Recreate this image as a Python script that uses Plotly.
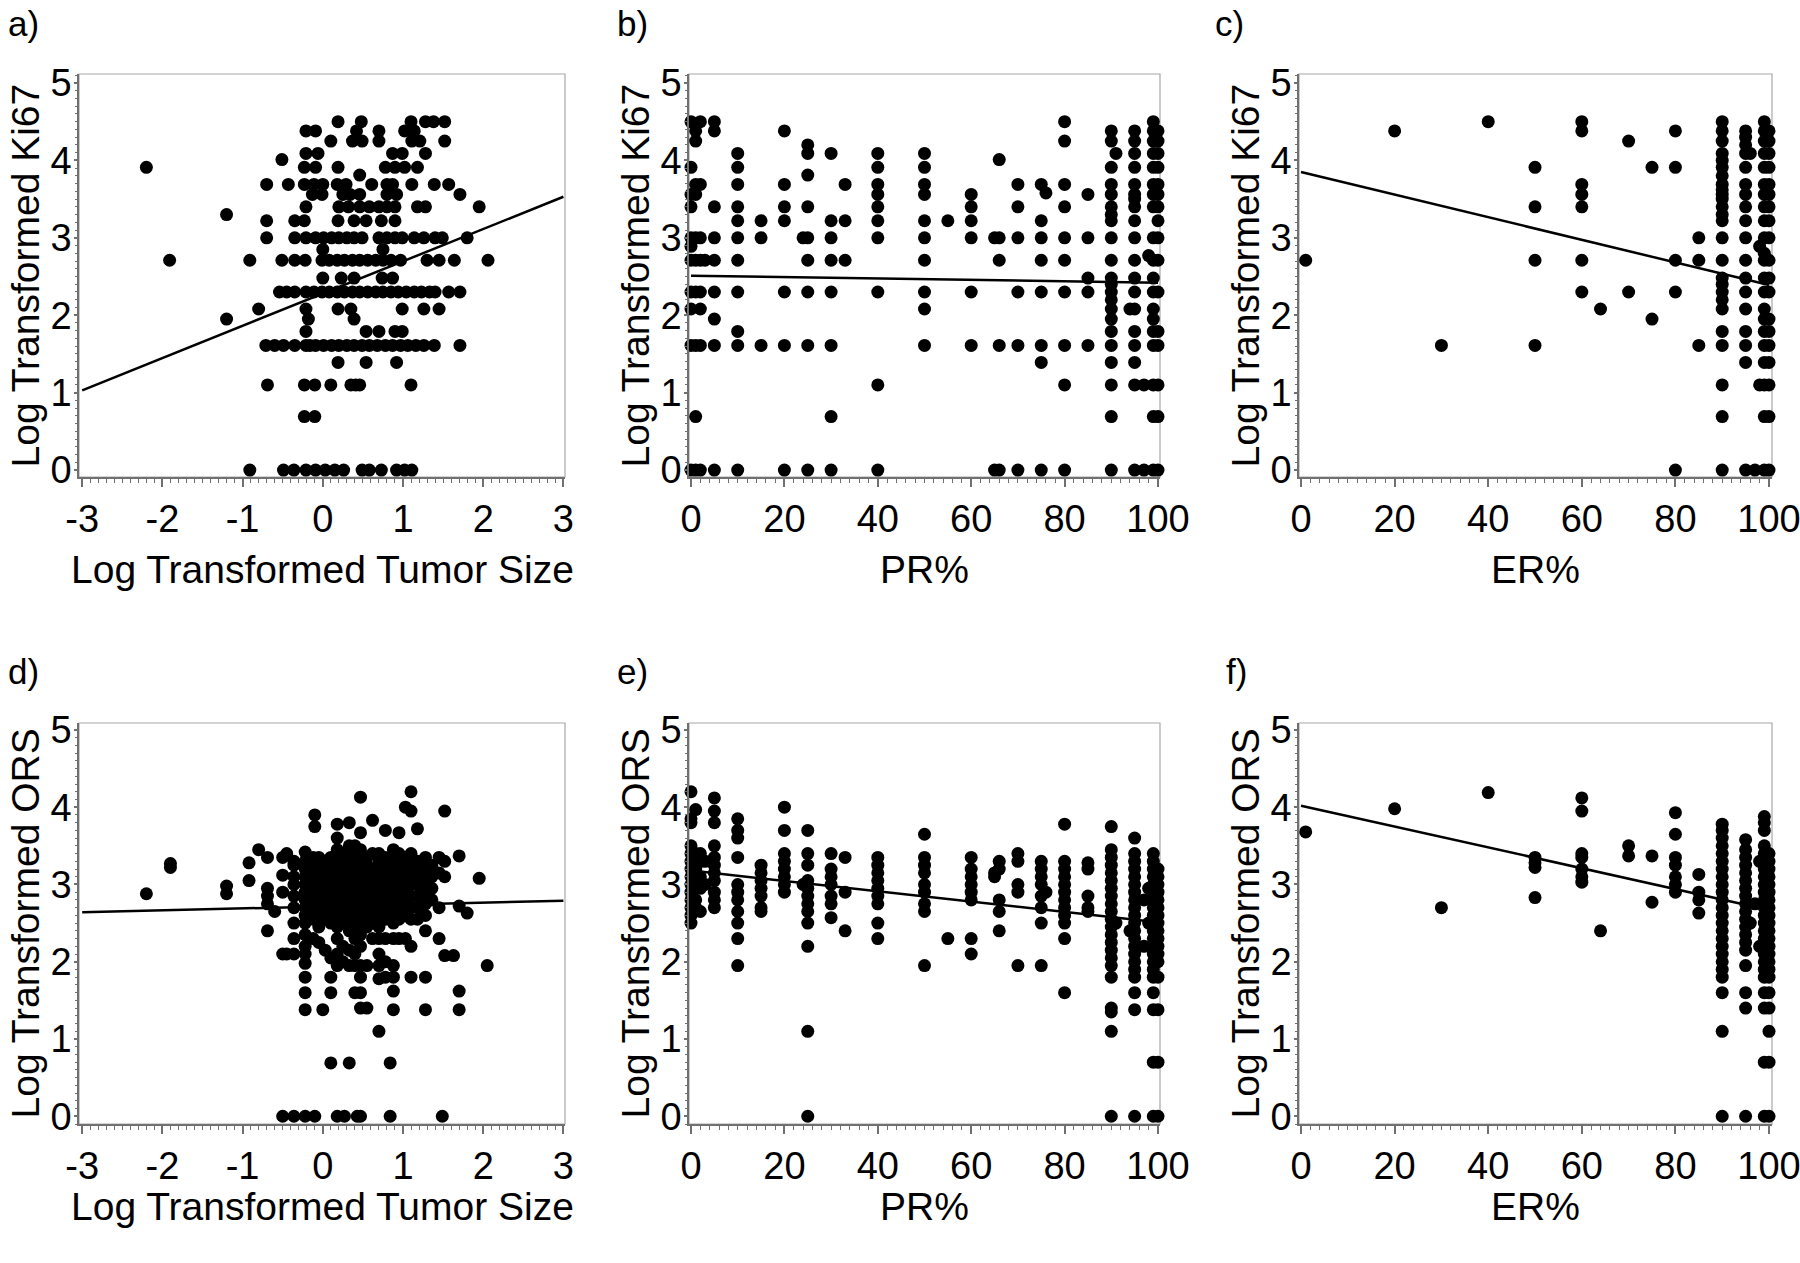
"""
Ki67 / ORS と腫瘍径・PR%・ER% の散布図 (6 パネル)
"""
import plotly.graph_objects as go

W, H = 1800, 1263
FONT = "Liberation Sans, Arial, sans-serif"

# ---- データ ----
# a) Ki67 (log) の値 -> 腫瘍径 (log) の値
size_ki67 = {
    0.0: [-0.91, -0.49, -0.36, -0.21, -0.09, 0.03, 0.15, 0.26, 0.49, 0.58, 0.73, 0.92, 1.02, 1.11],
    0.69: [-0.23, -0.1],
    1.1: [-0.69, -0.23, -0.1, 0.1, 0.35, 0.41, 0.46, 1.1],
    1.39: [0.19, 0.54, 0.92],
    1.61: [-0.71, -0.6, -0.49, -0.35, -0.21, -0.16, -0.09, 0.01, 0.11, 0.2, 0.3, 0.39, 0.49,
           0.58, 0.68, 0.78, 0.87, 0.97, 1.06, 1.16, 1.26, 1.39, 1.71],
    1.79: [-0.21, 0.54, 0.7, 0.9, 0.99],
    1.95: [-1.2, -0.18, 0.39],
    2.08: [-0.8, -0.21, 0.19, 0.35, 0.99, 1.26, 1.45],
    2.3: [-0.54, -0.45, -0.35, -0.21, -0.11, -0.01, 0.08, 0.18, 0.27, 0.37, 0.46, 0.56, 0.66,
          0.75, 0.85, 0.94, 1.04, 1.14, 1.23, 1.33, 1.4, 1.57, 1.71],
    2.48: [0.0, 0.23, 0.39, 0.74, 0.87],
    2.71: [-1.91, -0.91, -0.51, -0.35, -0.22, -0.01, 0.08, 0.18, 0.27, 0.37, 0.46, 0.56, 0.66,
           0.75, 0.85, 0.97, 1.3, 1.45, 1.64, 2.06],
    2.85: [0.0, 0.75],
    3.0: [-0.7, -0.35, -0.21, -0.09, 0.01, 0.11, 0.2, 0.3, 0.39, 0.49, 0.7, 0.8, 0.9, 0.99,
          1.14, 1.26, 1.4, 1.49, 1.8],
    3.22: [-0.7, -0.35, -0.23, 0.19, 0.39, 0.54, 0.73, 0.9],
    3.3: [-1.2],
    3.4: [-0.21, 0.2, 0.32, 0.46, 0.58, 0.7, 0.8, 0.9, 1.18, 1.28, 1.95],
    3.56: [-0.13, -0.01, 0.25, 0.34, 0.46, 0.8, 0.92, 1.71],
    3.69: [-0.7, -0.43, -0.23, -0.11, 0.0, 0.18, 0.29, 0.61, 0.8, 0.87, 1.11, 1.39, 1.57],
    3.81: [0.46],
    3.91: [-2.2, -0.23, -0.09, 0.19, 0.78, 0.9, 1.02, 1.18],
    4.01: [-0.51],
    4.09: [-0.21, -0.06, 0.87, 0.99, 1.28],
    4.25: [0.1, 0.37, 0.49, 0.7, 1.11, 1.21, 1.52],
    4.38: [-0.21, -0.09, 0.42, 0.7, 1.02, 1.14],
    4.5: [0.19, 0.48, 1.1, 1.28, 1.38, 1.52],
}

# b) PR% -> Ki67 (log)
pr_ki67 = {
    0: [0, 1.61, 2.08, 2.3, 2.71, 2.89, 3.0, 3.4, 3.56, 3.91, 4.5],
    1: [0, 0.69, 1.61, 2.3, 2.71, 3.0, 3.56, 3.69, 4.25, 4.38],
    2: [0, 1.61, 2.08, 2.3, 2.71, 3.0, 3.69, 4.5],
    3: [2.71],
    5: [0, 1.61, 1.95, 2.3, 2.71, 3.0, 3.4, 4.38, 4.5],
    10: [0, 1.61, 1.79, 2.3, 2.71, 3.0, 3.22, 3.4, 3.69, 3.91, 4.09],
    15: [1.61, 3.0, 3.22],
    20: [0, 1.61, 2.3, 3.22, 3.4, 3.69, 4.38],
    24: [3.0],
    25: [0, 1.61, 2.3, 2.71, 3.0, 3.4, 3.81, 4.09, 4.2],
    30: [0, 0.69, 1.61, 2.3, 2.71, 3.0, 3.22, 4.09],
    33: [2.71, 3.22, 3.69],
    40: [0, 1.1, 2.3, 3.0, 3.22, 3.4, 3.56, 3.69, 3.91, 4.09],
    50: [1.61, 2.08, 2.3, 2.71, 3.0, 3.22, 3.56, 3.69, 3.91, 4.09],
    55: [3.22],
    60: [1.61, 2.3, 3.0, 3.22, 3.4, 3.56],
    65: [0, 3.0],
    66: [0, 1.61, 2.71, 3.0, 4.01],
    70: [0, 1.61, 2.3, 3.0, 3.4, 3.69],
    75: [0, 1.39, 1.61, 2.3, 2.71, 3.0, 3.22, 3.69],
    76: [3.58],
    80: [0, 1.1, 1.61, 2.3, 2.71, 3.0, 3.4, 3.69, 4.25, 4.5],
    85: [1.61, 2.3, 2.48, 3.0, 3.56],
    90: [0, 0.69, 1.1, 1.39, 1.61, 1.79, 1.95, 2.08, 2.2, 2.3, 2.4, 2.48, 2.71, 3.0, 3.22,
         3.3, 3.4, 3.56, 3.69, 3.91, 4.25, 4.38],
    91: [4.09],
    94: [2.08],
    95: [0, 1.1, 1.39, 1.61, 1.79, 2.08, 2.3, 2.48, 2.71, 3.0, 3.22, 3.4, 3.5, 3.56, 3.69,
         3.91, 4.09, 4.25, 4.38],
    97: [0, 1.1],
    98: [2.77],
    99: [0, 0.69, 1.1, 1.61, 1.79, 1.95, 2.08, 2.3, 2.48, 2.71, 3.0, 3.4, 3.56, 3.69, 3.91,
         4.09, 4.25, 4.38, 4.5],
    100: [0, 0.69, 1.1, 1.61, 1.79, 2.3, 2.71, 3.0, 3.22, 3.4, 3.56, 3.69, 3.91, 4.09, 4.25, 4.38],
}

# c) ER% -> Ki67 (log)
er_ki67 = {
    1: [2.71],
    20: [4.38],
    30: [1.61],
    40: [4.5],
    50: [1.61, 2.71, 3.4, 3.91],
    60: [2.3, 2.71, 3.4, 3.56, 3.69, 4.38, 4.5],
    64: [2.08],
    70: [2.3, 4.25],
    75: [1.95, 3.91],
    80: [0, 2.3, 2.71, 3.91, 4.38],
    85: [1.61, 2.71, 3.0],
    90: [0, 0.69, 1.1, 1.61, 1.79, 2.08, 2.2, 2.3, 2.4, 2.48, 2.71, 3.0, 3.22, 3.3, 3.4, 3.5,
         3.56, 3.62, 3.69, 3.8, 3.91, 4.0, 4.09, 4.25, 4.38, 4.5],
    95: [0, 1.39, 1.61, 1.79, 2.08, 2.3, 2.48, 2.71, 3.0, 3.22, 3.4, 3.56, 3.69, 3.91, 4.09,
         4.2, 4.3, 4.38],
    96: [4.09],
    97: [0],
    98: [1.1, 2.89],
    99: [0, 0.69, 1.1, 1.39, 1.61, 1.79, 1.95, 2.08, 2.3, 2.48, 2.71, 2.8, 3.0, 3.22, 3.4,
         3.56, 3.69, 3.91, 4.09, 4.25, 4.38, 4.5],
    100: [0, 0.69, 1.1, 1.39, 1.61, 1.79, 1.95, 2.3, 2.48, 2.71, 3.0, 3.22, 3.4, 3.56, 3.69,
          3.91, 4.09, 4.25, 4.38],
}

# d) 腫瘍径 (log) -> ORS (log)
size_ors = {
    -2.2: [2.88],
    -1.9: [3.22, 3.27],
    -1.2: [2.88, 2.98],
    -0.92: [3.05, 3.28],
    -0.8: [3.45],
    -0.69: [2.4, 2.75, 2.85, 2.95, 3.35],
    -0.6: [2.65],
    -0.5: [0, 2.1, 2.9, 3.12, 3.35],
    -0.45: [2.1, 3.4],
    -0.36: [0, 2.1, 2.3, 2.5, 2.7, 2.85, 3.0, 3.1, 3.25, 3.3],
    -0.22: [0, 1.38, 1.6, 1.8, 1.98, 2.1, 2.2, 2.35, 2.5, 2.6, 2.7, 2.8, 2.9, 3.0, 3.1, 3.2,
            3.3, 3.42],
    -0.12: [2.3, 2.55, 2.7, 2.85, 2.95, 3.05, 3.2, 3.35],
    -0.1: [0, 3.75, 3.9],
    -0.05: [2.25, 2.45, 2.6, 2.75, 2.9, 3.0, 3.1, 3.25, 3.35],
    0.0: [1.38],
    0.03: [2.15, 2.55, 2.7, 2.8, 2.95, 3.05, 3.15, 3.3],
    0.1: [0.69, 1.6, 1.8, 2.05, 2.5, 2.65, 2.8, 2.9, 3.0, 3.1, 3.2, 3.35],
    0.18: [0, 1.95, 2.1, 2.3, 2.45, 2.6, 2.7, 2.85, 2.95, 3.05, 3.2, 3.3, 3.45, 3.6, 3.78],
    0.25: [2.0, 2.2, 2.5, 2.65, 2.8, 2.9, 3.0, 3.15, 3.25, 3.4],
    0.27: [0],
    0.33: [0.69, 1.95, 2.15, 2.4, 2.55, 2.7, 2.85, 2.95, 3.05, 3.2, 3.35, 3.5, 3.8],
    0.4: [1.6, 1.95, 2.1, 2.3, 2.45, 2.6, 2.75, 2.9, 3.0, 3.1, 3.25, 3.4, 3.5],
    0.43: [0],
    0.47: [0, 1.4, 1.6, 1.8, 1.95, 2.2, 2.35, 2.5, 2.7, 2.8, 2.95, 3.05, 3.2, 3.3, 3.45, 3.67, 4.13],
    0.55: [1.4, 1.95, 2.45, 2.6, 2.75, 2.9, 3.0, 3.15, 3.25, 3.35],
    0.62: [2.3, 2.5, 2.65, 2.8, 2.95, 3.1, 3.2, 3.4, 3.83],
    0.7: [1.1, 1.78, 1.95, 2.1, 2.3, 2.45, 2.6, 2.75, 2.9, 3.0, 3.15, 3.3, 3.4],
    0.78: [1.8, 2.0, 2.3, 2.55, 2.7, 2.85, 3.0, 3.1, 3.25, 3.35, 3.7],
    0.84: [0, 0.69],
    0.88: [1.38, 1.62, 1.8, 1.95, 2.3, 2.5, 2.65, 2.8, 2.95, 3.05, 3.2, 3.3, 3.45],
    0.95: [2.3, 2.55, 2.7, 2.85, 3.0, 3.15, 3.25, 3.4, 3.67],
    1.03: [2.3, 2.6, 2.75, 2.9, 3.05, 3.2, 3.35, 4.0],
    1.1: [1.8, 2.2, 2.55, 2.7, 2.85, 3.0, 3.1, 3.25, 3.4, 3.95, 4.2],
    1.18: [2.55, 2.7, 2.85, 3.0, 3.15, 3.3, 3.72],
    1.28: [1.38, 1.8, 2.4, 2.6, 2.75, 2.9, 3.05, 3.2, 3.35],
    1.36: [2.8, 2.95, 3.1, 3.25],
    1.45: [2.3, 2.7, 3.15, 3.35],
    1.49: [0],
    1.52: [2.08, 3.1, 3.3, 3.95],
    1.63: [2.08],
    1.7: [1.38, 1.62, 2.72, 3.37],
    1.8: [2.63],
    1.95: [3.08],
    2.05: [1.95],
}

# e) PR% -> ORS (log)
pr_ors = {
    0: [2.5, 2.6, 2.7, 2.8, 2.9, 3.0, 3.1, 3.2, 3.3, 3.4, 3.5, 3.8, 3.85, 4.2],
    1: [2.7, 2.8, 3.0, 3.2, 3.4, 3.97],
    2: [2.65, 2.95, 3.1, 3.3, 3.4],
    3: [3.0, 3.3],
    5: [2.7, 2.8, 2.9, 3.05, 3.15, 3.25, 3.35, 3.5, 3.8, 3.95, 4.12],
    10: [1.95, 2.3, 2.5, 2.65, 2.8, 2.9, 3.0, 3.35, 3.6, 3.7, 3.85],
    15: [2.65, 2.7, 2.85, 2.95, 3.05, 3.15, 3.25],
    20: [2.9, 3.0, 3.1, 3.2, 3.3, 3.4, 3.7, 4.0],
    24: [3.0],
    25: [0, 1.1, 2.2, 2.5, 2.65, 2.75, 2.85, 2.95, 3.05, 3.25, 3.4, 3.7],
    30: [2.57, 2.75, 2.85, 3.0, 3.1, 3.2, 3.4],
    33: [2.4, 2.9, 3.35],
    40: [2.3, 2.5, 2.75, 2.85, 2.95, 3.05, 3.15, 3.25, 3.35],
    50: [1.95, 2.65, 2.75, 2.9, 3.0, 3.15, 3.25, 3.35, 3.65],
    55: [2.3],
    60: [2.1, 2.3, 2.8, 2.9, 3.0, 3.1, 3.2, 3.35],
    65: [3.1, 3.15],
    66: [2.4, 2.65, 2.8, 3.2, 3.3],
    70: [1.95, 2.9, 3.0, 3.3, 3.4],
    75: [1.95, 2.5, 2.7, 2.85, 3.0, 3.1, 3.2, 3.3],
    76: [2.9],
    80: [1.6, 2.3, 2.5, 2.6, 2.7, 2.8, 2.9, 3.0, 3.1, 3.2, 3.3, 3.78],
    85: [2.65, 2.7, 2.85, 3.2, 3.28],
    90: [0, 1.1, 1.35, 1.4, 1.8, 1.95, 2.05, 2.15, 2.25, 2.35, 2.45, 2.55, 2.65, 2.75, 2.85,
         2.95, 3.05, 3.15, 3.25, 3.35, 3.45, 3.75],
    91: [2.5],
    94: [2.4],
    95: [0, 1.38, 1.6, 1.8, 1.9, 2.0, 2.1, 2.2, 2.3, 2.4, 2.5, 2.6, 2.7, 2.8, 2.9, 3.0, 3.1,
         3.2, 3.3, 3.4, 3.6],
    97: [2.2, 2.8],
    98: [2.5, 2.95],
    99: [0, 0.7, 1.38, 1.6, 1.8, 1.9, 2.0, 2.1, 2.2, 2.3, 2.4, 2.5, 2.6, 2.7, 2.8, 2.9, 3.0,
         3.1, 3.2, 3.3, 3.4],
    100: [0, 0.7, 1.38, 1.8, 2.0, 2.1, 2.2, 2.3, 2.4, 2.5, 2.6, 2.7, 2.8, 2.9, 3.0, 3.1, 3.2],
}

# f) ER% -> ORS (log)
er_ors = {
    1: [3.68],
    20: [3.98],
    30: [2.7],
    40: [4.19],
    50: [2.83, 3.22, 3.28, 3.35],
    60: [3.03, 3.1, 3.2, 3.35, 3.4, 3.95, 4.12],
    64: [2.4],
    70: [3.37, 3.5],
    75: [2.77, 3.37],
    80: [2.9, 3.0, 3.1, 3.25, 3.35, 3.65, 3.93],
    85: [2.63, 2.8, 2.9, 3.13],
    90: [0, 1.1, 1.6, 1.8, 1.9, 2.0, 2.1, 2.2, 2.3, 2.4, 2.5, 2.6, 2.7, 2.8, 2.9, 3.0, 3.1,
         3.2, 3.3, 3.4, 3.5, 3.6, 3.7, 3.78],
    95: [0, 1.4, 1.6, 1.95, 2.15, 2.25, 2.35, 2.45, 2.55, 2.65, 2.75, 2.85, 2.95, 3.05, 3.15,
         3.25, 3.35, 3.45, 3.58],
    96: [2.5],
    97: [2.75],
    98: [2.2, 3.3],
    99: [0, 0.7, 1.4, 1.6, 1.8, 1.9, 2.0, 2.1, 2.2, 2.3, 2.4, 2.5, 2.6, 2.7, 2.8, 2.9, 3.0,
         3.1, 3.2, 3.3, 3.4, 3.5, 3.7, 3.8, 3.88],
    100: [0, 0.7, 1.1, 1.4, 1.6, 1.8, 1.9, 2.0, 2.1, 2.2, 2.3, 2.4, 2.5, 2.6, 2.7, 2.8, 2.9,
          3.0, 3.1, 3.2, 3.3, 3.4],
}

# 回帰直線の両端 (x, y)
fit_a = ([-3, 3], [1.03, 3.53])
fit_b = ([0, 100], [2.51, 2.42])
fit_c = ([0, 100], [3.85, 2.39])
fit_d = ([-3, 3], [2.64, 2.79])
fit_e = ([0, 100], [3.18, 2.51])
fit_f = ([0, 100], [4.02, 2.67])

size_ticks = [-3, -2, -1, 0, 1, 2, 3]
pct_ticks = [0, 20, 40, 60, 80, 100]
y_ticks = [0, 1, 2, 3, 4, 5]


def by_x(d):
    xs, ys = [], []
    for k, vals in d.items():
        for v in vals:
            xs.append(k)
            ys.append(v)
    return xs, ys


def by_y(d):
    ys, xs = by_x(d)
    return xs, ys


# ---- レイアウト（ピクセル位置） ----
col_px = [(79, 565), (689, 1160), (1299, 1772)]
row_px = [(74, 477), (723, 1124)]
xtitle_gap = [92, 82]
letter_px = [(6, 23), (615, 23), (1213, 23), (6, 671), (615, 671), (1224, 671)]

panels = [
    ("a)", by_y(size_ki67), fit_a, "size", "Log Transformed Tumor Size", "Log Transformed Ki67"),
    ("b)", by_x(pr_ki67), fit_b, "pr", "PR%", "Log Transformed Ki67"),
    ("c)", by_x(er_ki67), fit_c, "er", "ER%", "Log Transformed Ki67"),
    ("d)", by_x(size_ors), fit_d, "size", "Log Transformed Tumor Size", "Log Transformed ORS"),
    ("e)", by_x(pr_ors), fit_e, "pr", "PR%", "Log Transformed ORS"),
    ("f)", by_x(er_ors), fit_f, "er", "ER%", "Log Transformed ORS"),
]

x_ranges = {"size": [-3.04, 3.02], "pr": [-0.43, 100.43], "er": [-0.43, 100.64]}
y_ranges = [[-0.09, 5.116], [-0.1, 5.09]]

AXIS_COL = "#707070"
BOX_COL = "#a8a8a8"

fig = go.Figure()
annotations = []
shapes = []

for i, (letter, (xs, ys), (fx, fy), kind, xtitle, ytitle) in enumerate(panels):
    r, c = divmod(i, 3)
    n = i + 1
    xa = "x" if n == 1 else f"x{n}"
    ya = "y" if n == 1 else f"y{n}"
    x0, x1 = col_px[c]
    y0, y1 = row_px[r]

    fig.add_trace(go.Scatter(
        x=xs, y=ys, mode="markers", xaxis=xa, yaxis=ya,
        marker=dict(color="black", size=13, line=dict(width=0)),
        cliponaxis=False, showlegend=False,
    ))
    fig.add_trace(go.Scatter(
        x=fx, y=fy, mode="lines", xaxis=xa, yaxis=ya,
        line=dict(color="black", width=2.5), showlegend=False,
    ))

    if kind == "size":
        tv, tt, minor_dt = size_ticks, [str(t) for t in size_ticks], 0.1
    else:
        tv, tt, minor_dt = pct_ticks, [str(t) for t in pct_ticks], 2

    xkey = "xaxis" if n == 1 else f"xaxis{n}"
    ykey = "yaxis" if n == 1 else f"yaxis{n}"
    fig.layout[xkey] = dict(
        domain=[x0 / W, x1 / W], anchor=ya, range=x_ranges[kind], automargin=False,
        tickvals=tv, ticktext=tt, ticks="outside", ticklen=8, tickwidth=1.5,
        tickcolor=AXIS_COL, showline=True, linecolor=AXIS_COL, linewidth=1.5,
        showgrid=False, zeroline=False, ticklabelstandoff=0, ticklabeloverflow="allow",
        tickfont=dict(family=FONT, size=38, color="black"),
        minor=dict(dtick=minor_dt, ticks="outside", ticklen=4, tickwidth=1,
                   tickcolor=AXIS_COL, showgrid=False),
    )
    fig.layout[ykey] = dict(
        domain=[1 - y1 / H, 1 - y0 / H], anchor=xa, range=y_ranges[r], automargin=False,
        tickvals=y_ticks, ticks="outside", ticklen=3, tickwidth=1.5,
        tickcolor=AXIS_COL, showline=True, linecolor=AXIS_COL, linewidth=1.5,
        showgrid=False, zeroline=False, ticklabelstandoff=-5, ticklabeloverflow="allow",
        tickfont=dict(family=FONT, size=38, color="black"),
        minor=dict(dtick=0.1, ticks="outside", ticklen=2, tickwidth=1,
                   tickcolor=AXIS_COL, showgrid=False),
    )

    shapes.append(dict(type="rect", xref=f"{xa} domain", yref=f"{ya} domain",
                       x0=0, x1=1, y0=0, y1=1, layer="below",
                       line=dict(color=BOX_COL, width=1.2)))

    # 軸タイトル
    annotations.append(dict(
        text=xtitle, xref="paper", yref="paper", x=(x0 + x1) / 2 / W,
        y=1 - (y1 + xtitle_gap[r]) / H, xanchor="center", yanchor="middle", showarrow=False,
        font=dict(family=FONT, size=39, color="black"),
    ))
    annotations.append(dict(
        text=ytitle, xref="paper", yref="paper", x=(x0 - 54) / W,
        y=1 - (y0 + y1) / 2 / H, xanchor="center", yanchor="middle", textangle=-90,
        showarrow=False, font=dict(family=FONT, size=39, color="black"),
    ))
    lx, ly = letter_px[i]
    annotations.append(dict(
        text=letter, xref="paper", yref="paper", x=lx / W, y=1 - ly / H,
        xanchor="left", yanchor="middle", showarrow=False,
        font=dict(family=FONT, size=35, color="black"),
    ))

fig.update_layout(
    width=W, height=H, margin=dict(l=0, r=0, t=0, b=0),
    paper_bgcolor="white", plot_bgcolor="white",
    annotations=annotations, shapes=shapes,
)

# ページ既定の body 余白を消して図を左上に合わせる
fig.write_html("out.html", config={"displayModeBar": False},
               post_script="document.body.style.margin='0';")
